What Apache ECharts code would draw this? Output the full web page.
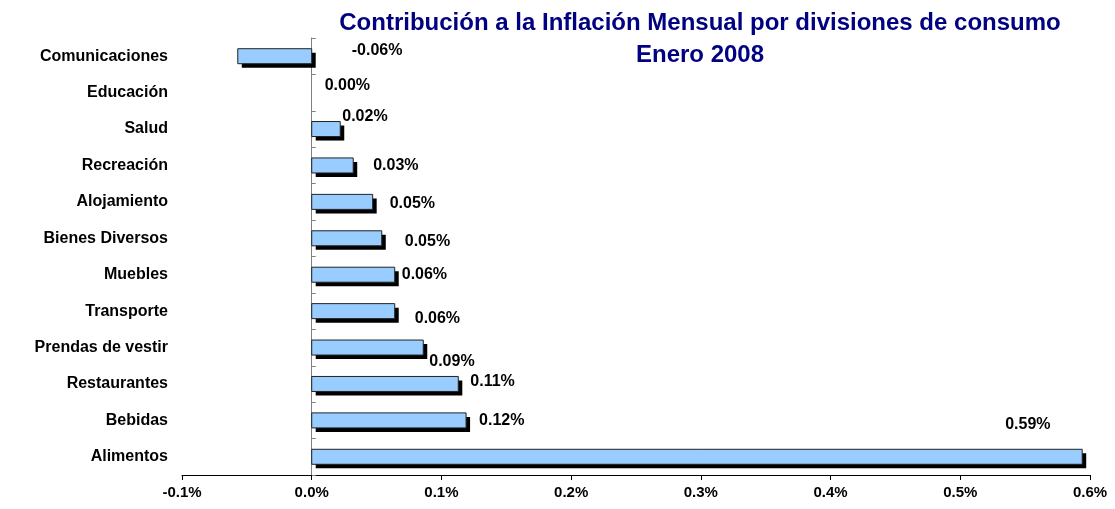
<!DOCTYPE html>
<html>
<head>
<meta charset="utf-8">
<script src="https://cdn.jsdelivr.net/npm/echarts@6/dist/echarts.min.js"></script>
<style>
  html, body { margin: 0; padding: 0; background: #fff; }
  #chart { width: 1115px; height: 509px; }
</style>
</head>
<body>
<div id="chart"></div>
<script>
// divisiones de consumo, top to bottom
const categories = [
  'Comunicaciones', 'Educación', 'Salud', 'Recreación', 'Alojamiento',
  'Bienes Diversos', 'Muebles', 'Transporte', 'Prendas de vestir',
  'Restaurantes', 'Bebidas', 'Alimentos'
];
// contribución (puntos porcentuales)
const contribution = [
  -0.057, 0.0, 0.022, 0.032, 0.047, 0.054, 0.064, 0.064, 0.086, 0.113, 0.119, 0.594
];
const xTicks = { min: -0.1, max: 0.6, interval: 0.1 };

// hand-placed label nudges, like the original sheet [dx, dy]
const labelNudge = [
  [40, -6], [13, -7], [2, -12], [20, 0], [17, 2], [23, 3],
  [7, 0], [20, 7], [6, 14], [12, -2], [13, 0], [-77, -32]
];

const BAR_H = 15;
const chart = echarts.init(document.getElementById('chart'));

function renderBar(params, api) {
  const v = api.value(0);
  const i = api.value(1);
  const start = api.coord([0, i]);
  const end = api.coord([v, i]);
  const x0 = Math.min(start[0], end[0]);
  const w = Math.abs(end[0] - start[0]);
  const y = start[1] - BAR_H / 2;
  const nudge = labelNudge[params.dataIndex];
  const children = [];
  if (w > 0.5) {
    children.push({
      type: 'rect',
      shape: { x: x0 + 4, y: y + 4, width: w, height: BAR_H },
      style: { fill: '#000' }
    });
    children.push({
      type: 'rect',
      shape: { x: x0, y: y, width: w, height: BAR_H },
      style: { fill: '#99ccff', stroke: '#222', lineWidth: 1 }
    });
  }
  children.push({
    type: 'text',
    x: Math.max(start[0], end[0]) + nudge[0],
    y: start[1] + nudge[1],
    style: {
      text: v.toFixed(2) + '%',
      align: 'left',
      verticalAlign: 'middle',
      fill: '#000',
      fontFamily: 'Liberation Sans',
      fontWeight: 'bold',
      fontSize: 16
    }
  });
  return { type: 'group', children };
}

chart.setOption({
  animation: false,
  title: {
    text: 'Contribución a la Inflación Mensual por divisiones de consumo\nEnero 2008',
    left: 695,
    top: 2,
    textAlign: 'center',
    textStyle: {
      fontFamily: 'Liberation Sans',
      fontWeight: 'bold',
      fontSize: 24,
      lineHeight: 32,
      color: '#000080'
    }
  },
  grid: { left: 182, right: 25, top: 38, bottom: 34 },
  xAxis: {
    type: 'value',
    min: xTicks.min,
    max: xTicks.max,
    interval: xTicks.interval,
    axisLine: { show: true, onZero: false, lineStyle: { color: '#000', width: 1 } },
    axisTick: { show: true, length: 5, lineStyle: { color: '#000' } },
    splitLine: { show: false },
    axisLabel: {
      margin: 10,
      color: '#000',
      fontFamily: 'Liberation Sans',
      fontWeight: 'bold',
      fontSize: 15,
      formatter: (v) => v.toFixed(1) + '%'
    }
  },
  yAxis: [
    {
      type: 'category',
      inverse: true,
      data: categories,
      axisLine: { show: false, onZero: false },
      axisTick: { show: false },
      axisLabel: {
        margin: 14,
        color: '#000',
        fontFamily: 'Liberation Sans',
        fontWeight: 'bold',
        fontSize: 16
      }
    },
    {
      type: 'category',
      inverse: true,
      position: 'left',
      data: categories,
      axisLine: { show: true, onZero: true, onZeroAxisIndex: 0, lineStyle: { color: '#808080' } },
      axisTick: { show: true, inside: true, length: 4, lineStyle: { color: '#808080' } },
      axisLabel: { show: false }
    }
  ],
  series: [
    {
      type: 'custom',
      yAxisIndex: 0,
      encode: { x: 0, y: 1 },
      data: contribution.map((v, i) => [v, i]),
      renderItem: renderBar
    }
  ]
});
</script>
</body>
</html>
